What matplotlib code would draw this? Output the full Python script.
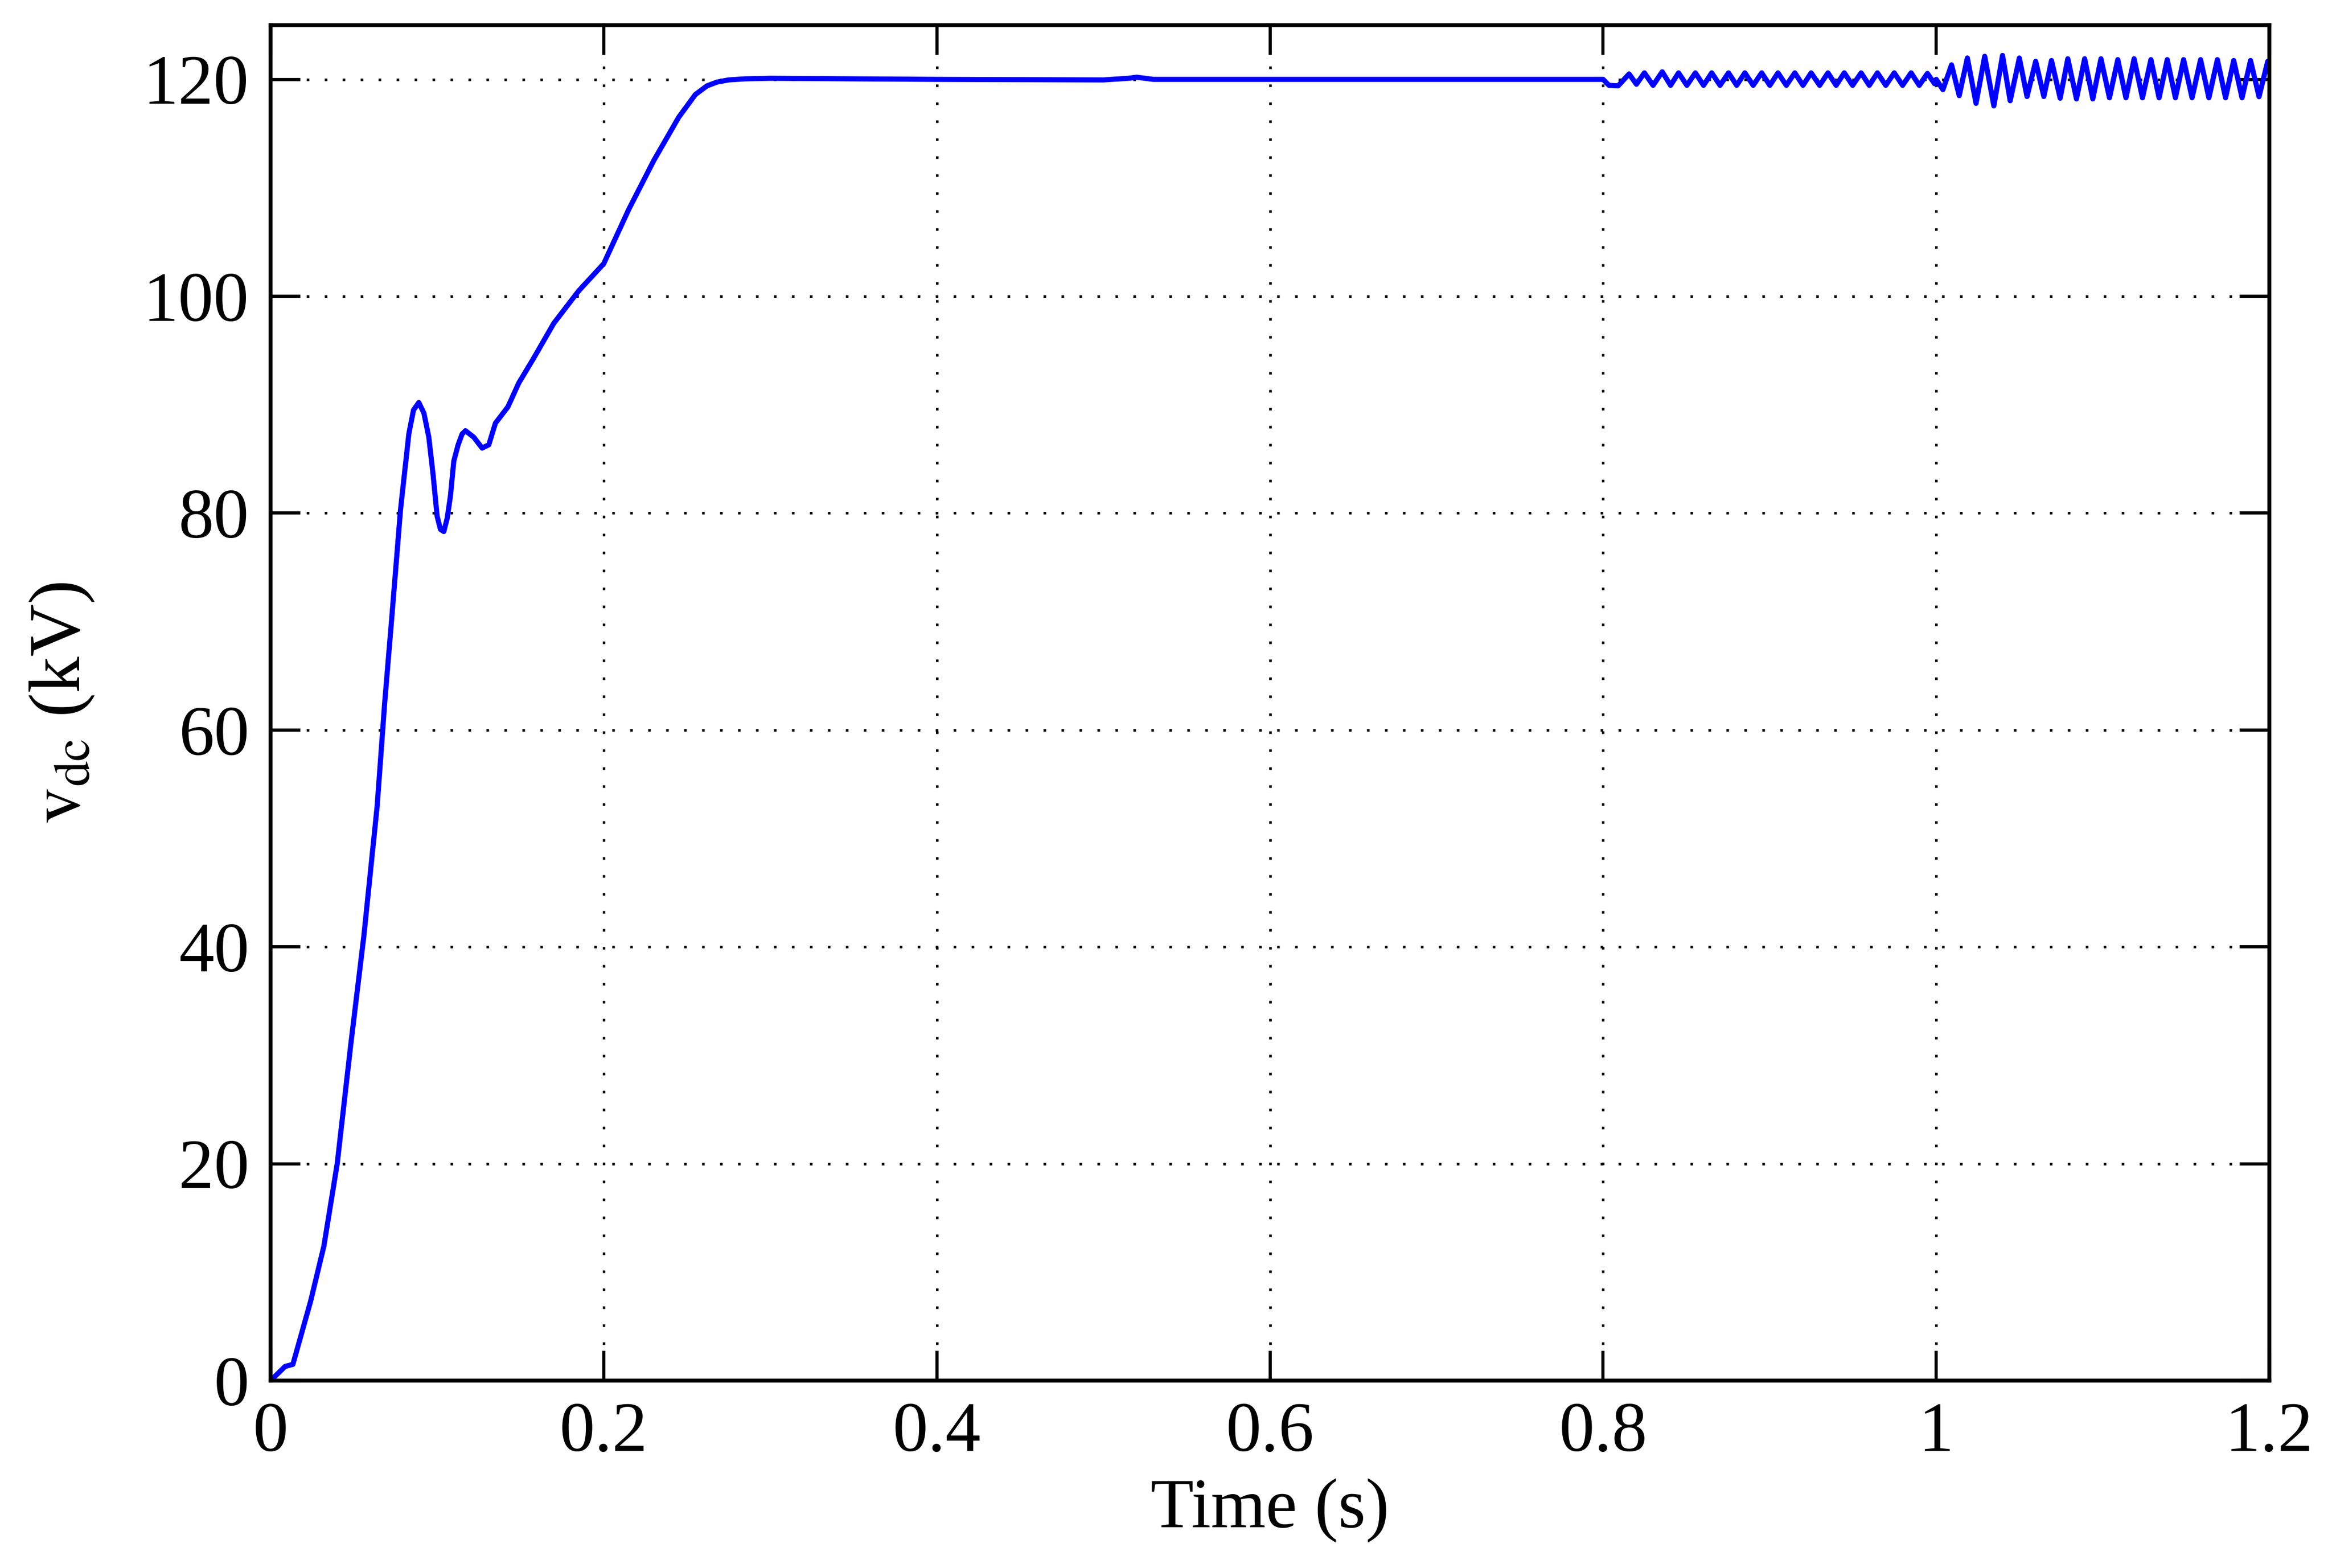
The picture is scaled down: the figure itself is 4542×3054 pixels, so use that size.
import numpy as np
import matplotlib
matplotlib.use("Agg")
import matplotlib.pyplot as plt

# Startup transient (time s, kV)
t_start = [0.0, 0.0087, 0.0134, 0.024, 0.032, 0.040, 0.048, 0.056, 0.064, 0.0685, 0.073, 0.078,
           0.083, 0.0858, 0.089, 0.0921, 0.095, 0.0976, 0.100, 0.102, 0.104, 0.106, 0.108, 0.110,
           0.1126, 0.115, 0.117, 0.122, 0.127, 0.131, 0.135,
           0.1425, 0.149, 0.158, 0.170, 0.185, 0.200, 0.215, 0.230, 0.245, 0.255, 0.262, 0.268,
           0.275, 0.285, 0.300, 0.400, 0.500, 0.515, 0.520, 0.530, 0.600, 0.700, 0.780, 0.800]
v_start = [0.0, 1.3, 1.5, 7.3, 12.4, 20.0, 30.8, 41.0, 53.0, 62.5, 70.8, 80.3,
           87.3, 89.5, 90.2, 89.2, 87.0, 83.5, 79.7, 78.5, 78.3, 79.5, 81.6, 84.8,
           86.3, 87.3, 87.6, 87.0, 86.0, 86.3, 88.3,
           89.8, 92.0, 94.3, 97.5, 100.5, 103.0, 108.0, 112.5, 116.5, 118.6, 119.4, 119.75,
           119.95, 120.05, 120.1, 120.0, 119.95, 120.1, 120.2, 120.0, 120.0, 120.0, 120.0, 120.0]

# 0.8-1.0 s small oscillation: extrema
t_osc1 = [0.8035, 0.8090, 0.8156, 0.8200, 0.8248, 0.8300, 0.8355, 0.8405, 0.8453, 0.8503,
          0.8554, 0.8603, 0.8652, 0.8702, 0.8753, 0.8802, 0.8851, 0.8901, 0.8952, 0.9001,
          0.9050, 0.9100, 0.9151, 0.9200, 0.9249, 0.9300, 0.9350, 0.9399, 0.9448, 0.9498,
          0.9549, 0.9598, 0.9647, 0.9697, 0.9748, 0.9798, 0.9849, 0.9898, 0.9947, 0.9990]
v_osc1 = [119.45, 119.4, 120.5, 119.55, 120.6, 119.45, 120.7, 119.45, 120.6, 119.45,
          120.6, 119.45, 120.6, 119.45, 120.6, 119.45, 120.6, 119.45, 120.6, 119.45,
          120.6, 119.45, 120.6, 119.45, 120.6, 119.45, 120.6, 119.45, 120.6, 119.45,
          120.6, 119.45, 120.6, 119.45, 120.6, 119.45, 120.6, 119.45, 120.55, 119.6]

# 1.0-1.2 s larger oscillation: extrema
t_osc2 = [1.0040, 1.0092, 1.0138, 1.0187, 1.0239, 1.0291, 1.0346, 1.0398, 1.0444, 1.0499,
          1.0545, 1.0597, 1.0646, 1.0692, 1.0744, 1.0790, 1.0842, 1.0891, 1.0940, 1.0989,
          1.1040, 1.1090, 1.1139, 1.1188, 1.1238, 1.1289, 1.1338, 1.1387, 1.1436, 1.1485,
          1.1536, 1.1587, 1.1637, 1.1688, 1.1737, 1.1786, 1.1836, 1.1887, 1.1938, 1.1990, 1.2000]
v_osc2 = [119.05, 121.34, 118.5, 121.97, 117.79, 122.13, 117.55, 122.21, 118.03, 121.97,
          118.42, 121.66, 118.42, 121.74, 118.26, 121.9, 118.2, 121.9, 118.2, 121.9,
          118.3, 121.82, 118.3, 121.9, 118.3, 121.82, 118.3, 121.82, 118.3, 121.82,
          118.3, 121.82, 118.3, 121.82, 118.3, 121.74, 118.3, 121.74, 118.4, 121.66, 121.5]

t = np.array(t_start + t_osc1 + [1.0] + t_osc2)
v = np.array(v_start + v_osc1 + [120.0] + v_osc2)

plt.rcParams['font.family'] = ['Liberation Serif', 'DejaVu Serif']
plt.rcParams['mathtext.fontset'] = 'stix'

fig = plt.figure(figsize=(4542/300, 3054/300), dpi=300)
ax = fig.add_axes([527/4542, 1 - 2689/3054, (4420-527)/4542, (2689-49)/3054])
ax.plot(t, v, color='#0000ff', lw=2.4, solid_joinstyle='round')
ax.set_xlim(0, 1.2)
ax.set_ylim(0, 125)
ax.set_xticks([0, 0.2, 0.4, 0.6, 0.8, 1.0, 1.2])
ax.set_xticklabels(['0', '0.2', '0.4', '0.6', '0.8', '1', '1.2'])
ax.set_yticks([0, 20, 40, 60, 80, 100, 120])
ax.grid(True, color='black', linestyle=(0, (1, 6)), lw=1.2)
ax.tick_params(direction='in', top=True, right=True, length=14, width=1.5,
               labelsize=33, pad=10)
for s in ax.spines.values():
    s.set_linewidth(1.8)
ax.set_xlabel('Time (s)', fontsize=33, labelpad=6)
ax.set_ylabel(r'$\mathrm{v_{dc}}$ (kV)', fontsize=34, labelpad=22)
fig.savefig('out.png', dpi=300)
